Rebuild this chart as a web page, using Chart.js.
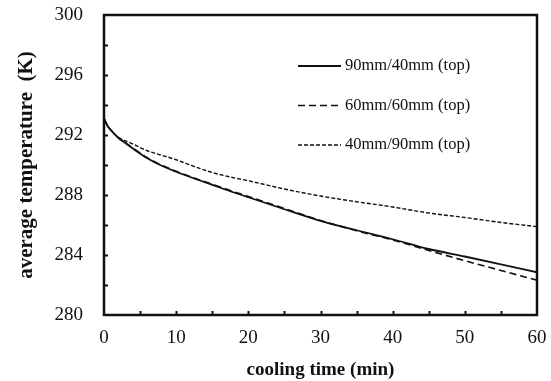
<!DOCTYPE html>
<html>
<head>
<meta charset="utf-8">
<script src="https://cdn.jsdelivr.net/npm/chart.js@4/dist/chart.umd.min.js"></script>
<style>
  html, body { margin: 0; padding: 0; background: #fff; }
  #wrap { width: 551px; height: 381px; }
</style>
</head>
<body>
<div id="wrap"><canvas id="tempChart" width="551" height="381"></canvas></div>
<script>
//-- values
const times = [0, 0.5, 1, 2, 3, 4, 6, 8, 10, 12.5, 15, 17.5, 20, 25, 30, 35, 40, 45, 50, 55, 60];
const t90_40 = [293.1, 292.6, 292.3, 291.8, 291.45, 291.1, 290.45, 289.95, 289.55, 289.1, 288.68, 288.25, 287.85, 287.05, 286.28, 285.65, 285.05, 284.4, 283.9, 283.38, 282.85];
const t60_60 = [293.1, 292.6, 292.3, 291.82, 291.48, 291.13, 290.48, 289.98, 289.58, 289.13, 288.72, 288.3, 287.9, 287.1, 286.3, 285.62, 285.0, 284.3, 283.62, 282.97, 282.32];
const t40_90 = [293.1, 292.6, 292.3, 291.85, 291.6, 291.4, 290.95, 290.65, 290.35, 289.9, 289.5, 289.2, 288.95, 288.4, 287.93, 287.55, 287.2, 286.8, 286.5, 286.17, 285.89];
const seriesNames = ["90mm/40mm (top)", "60mm/60mm (top)", "40mm/90mm (top)"];
const xTicks = [0, 10, 20, 30, 40, 50, 60];
const yTicks = [280, 284, 288, 292, 296, 300];

const ink = "#111";
const serif = "'Liberation Serif', 'Times New Roman', serif";

var toPoints = function(vals) {
    let pts = [];
    for (let i = 0; i < times.length; i++) {
        pts.push({ x: times[i], y: vals[i] });
    }
    return pts;
}

var makeSet = function(name, vals, dash, width) {
    return {
        label: name,
        data: toPoints(vals),
        borderColor: ink,
        borderWidth: width,
        borderDash: dash,
        pointRadius: 0,
        fill: false,
        cubicInterpolationMode: "monotone"
    };
}

//no extra room for overflowing labels, the layout padding decides
var noPad = function(scale) {
    scale.paddingTop = 0;
    scale.paddingBottom = 0;
    scale.paddingLeft = 0;
    scale.paddingRight = 0;
}

// inward ticks, the frame box and the legend inside the plot
var framePlugin = {
    id: "frame",
    afterDatasetsDraw: function(chart) {
        let ctx = chart.ctx;
        let a = chart.chartArea;
        let xs = chart.scales.x;
        let ys = chart.scales.y;
        ctx.save();
        ctx.strokeStyle = ink;
        ctx.lineWidth = 2;
        for (let v = 5; v < 60; v += 5) {
            let px = Math.round(xs.getPixelForValue(v)) + 0.5;
            ctx.beginPath();
            ctx.moveTo(px, a.bottom);
            ctx.lineTo(px, a.bottom - 4);
            ctx.stroke();
        }
        for (let v = 282; v < 300; v += 2) {
            let py = Math.round(ys.getPixelForValue(v)) + 0.5;
            ctx.beginPath();
            ctx.moveTo(a.left, py);
            ctx.lineTo(a.left + 4, py);
            ctx.stroke();
        }
        ctx.lineWidth = 2.5;
        ctx.strokeRect(a.left, a.top, a.right - a.left, a.bottom - a.top);

        // legend
        ctx.font = "16.5px " + serif;
        ctx.fillStyle = ink;
        ctx.textBaseline = "middle";
        let sets = chart.data.datasets;
        for (let i = 0; i < sets.length; i++) {
            let y = 66 + i * 39.5;
            ctx.lineWidth = sets[i].borderWidth;
            ctx.setLineDash(sets[i].borderDash);
            ctx.beginPath();
            ctx.moveTo(298, y);
            ctx.lineTo(341, y);
            ctx.stroke();
            ctx.setLineDash([]);
            ctx.fillText(sets[i].label, 345, y);
        }
        ctx.restore();
    }
};

var chart = new Chart(document.getElementById("tempChart"), {
    type: "line",
    data: {
        datasets: [
            makeSet(seriesNames[0], t90_40, [], 1.8),
            makeSet(seriesNames[1], t60_60, [7, 4], 1.6),
            makeSet(seriesNames[2], t40_90, [4, 2], 1.4)
        ]
    },
    options: {
        responsive: false,
        animation: false,
        devicePixelRatio: 1,
        layout: { padding: { top: 15, right: 14, left: 0, bottom: 0 } },
        plugins: { legend: { display: false }, tooltip: { enabled: false } },
        scales: {
            x: {
                type: "linear",
                min: 0,
                max: 60,
                afterBuildTicks: function(scale) {
                    scale.ticks = xTicks.map(v => ({ value: v }));
                },
                afterFit: function(scale) { scale.height = 66; noPad(scale); },
                grid: { display: false, drawTicks: false },
                border: { display: false },
                ticks: { color: ink, padding: 12, maxRotation: 0, font: { family: serif, size: 19 } },
                title: {
                    display: true,
                    text: "cooling time (min)",
                    color: ink,
                    padding: { top: 1, bottom: 0 },
                    font: { family: serif, size: 19, weight: "bold" }
                }
            },
            y: {
                min: 280,
                max: 300,
                afterBuildTicks: function(scale) {
                    scale.ticks = yTicks.map(v => ({ value: v }));
                },
                afterFit: function(scale) { scale.width = 104; noPad(scale); },
                grid: { display: false, drawTicks: false },
                border: { display: false },
                ticks: { color: ink, padding: 21, font: { family: serif, size: 19 } },
                title: {
                    display: true,
                    text: "average temperature  (K)",
                    color: ink,
                    padding: { top: 14, bottom: 0 },
                    font: { family: serif, size: 21, weight: "bold" }
                }
            }
        }
    },
    plugins: [framePlugin]
});
</script>
</body>
</html>
